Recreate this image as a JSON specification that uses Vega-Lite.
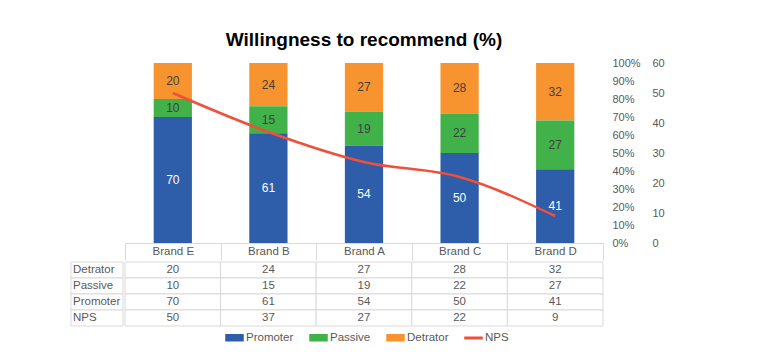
{
  "$schema": "https://vega.github.io/schema/vega-lite/v6.json",
  "padding": {"left": 70, "top": 31, "right": 5, "bottom": 5},
  "background": "white",
  "config": {"view": {"stroke": null}, "font": "Liberation Sans", "legend": {"layout": {"bottom": {"anchor": "middle"}}}},
  "datasets": {
    "d": [
      {"brand": "Brand E", "series": "Detrator", "value": 20},
      {"brand": "Brand E", "series": "Passive", "value": 10},
      {"brand": "Brand E", "series": "Promoter", "value": 70},
      {"brand": "Brand E", "series": "NPS", "value": 50},
      {"brand": "Brand B", "series": "Detrator", "value": 24},
      {"brand": "Brand B", "series": "Passive", "value": 15},
      {"brand": "Brand B", "series": "Promoter", "value": 61},
      {"brand": "Brand B", "series": "NPS", "value": 37},
      {"brand": "Brand A", "series": "Detrator", "value": 27},
      {"brand": "Brand A", "series": "Passive", "value": 19},
      {"brand": "Brand A", "series": "Promoter", "value": 54},
      {"brand": "Brand A", "series": "NPS", "value": 27},
      {"brand": "Brand C", "series": "Detrator", "value": 28},
      {"brand": "Brand C", "series": "Passive", "value": 22},
      {"brand": "Brand C", "series": "Promoter", "value": 50},
      {"brand": "Brand C", "series": "NPS", "value": 22},
      {"brand": "Brand D", "series": "Detrator", "value": 32},
      {"brand": "Brand D", "series": "Passive", "value": 27},
      {"brand": "Brand D", "series": "Promoter", "value": 41},
      {"brand": "Brand D", "series": "NPS", "value": 9}
    ]
  },
  "columns": 2,
  "spacing": 0,
  "concat": [
    {
      "width": 52, "height": 180,
      "data": {"values": [{}]},
      "mark": {"type": "point", "opacity": 0},
      "encoding": {}
    },
    {
      "title": {"text": "Willingness to recommend (%)", "fontSize": 19, "fontWeight": "bold", "color": "#000000", "anchor": "middle", "offset": 7},
      "width": 478, "height": 180,
      "data": {"name": "d"},
      "layer": [
        {
          "layer": [
            {
              "transform": [{"filter": "datum.series !== 'NPS'"}],
              "mark": {"type": "bar", "width": {"band": 0.4}},
              "encoding": {
                "x": {"field": "brand", "type": "nominal", "sort": ["Brand E", "Brand B", "Brand A", "Brand C", "Brand D"],
                  "scale": {"paddingInner": 0, "paddingOuter": 0},
                  "axis": {"title": null, "orient": "bottom", "labelAngle": 0, "domainColor": "#d9d9d9", "tickColor": "#d9d9d9", "tickBand": "extent", "tickSize": 17, "labelBaseline": "middle", "labelPadding": -8.5, "labelFontSize": 11.5, "labelColor": "#595959"}},
                "y": {"field": "value", "type": "quantitative", "stack": "zero",
                  "scale": {"domain": [0, 100], "nice": false},
                  "axis": {"orient": "right", "title": null, "values": [0, 10, 20, 30, 40, 50, 60, 70, 80, 90, 100], "labelExpr": "datum.value + '%'", "labelOverlap": false, "domain": false, "ticks": false, "grid": false, "labelAlign": "left", "labelPadding": 9, "labelFontSize": 11, "labelColor": "#595959"}},
                "order": {"field": "series", "sort": "descending"},
                "color": {"field": "series", "type": "nominal",
                  "scale": {"domain": ["Promoter", "Passive", "Detrator", "NPS"], "range": ["#2E5DA9", "#41B14A", "#F7942F", "#F04F3A"]},
                  "legend": {"orient": "bottom", "direction": "horizontal", "title": null, "labelFontSize": 11.5, "labelColor": "#595959", "columnPadding": 13, "symbolSize": 289, "labelOffset": 2, "offset": 1,
                    "encode": {"symbols": {"update": {
                      "shape": {"signal": "datum.value === 'NPS' ? 'M-1,-0.1H1V0.1H-1Z' : 'M-1,-0.35H1V0.35H-1Z'"},
                      "fill": {"signal": "datum.value === 'Promoter' ? '#2E5DA9' : datum.value === 'Passive' ? '#41B14A' : datum.value === 'Detrator' ? '#F7942F' : '#F04F3A'"},
                      "stroke": {"value": "transparent"}
                    }}}}
                }
              }
            },
            {
              "transform": [
                {"filter": "datum.series !== 'NPS'"},
                {"stack": "value", "groupby": ["brand"], "sort": [{"field": "series", "order": "descending"}], "as": ["y0", "y1"]},
                {"calculate": "(datum.y0 + datum.y1) / 2", "as": "mid"}
              ],
              "mark": {"type": "text", "fontSize": 12},
              "encoding": {
                "x": {"field": "brand", "type": "nominal", "sort": ["Brand E", "Brand B", "Brand A", "Brand C", "Brand D"]},
                "y": {"field": "mid", "type": "quantitative",
                  "axis": {"orient": "right", "title": null, "values": [0, 10, 20, 30, 40, 50, 60, 70, 80, 90, 100], "labelExpr": "datum.value + '%'", "labelOverlap": false, "domain": false, "ticks": false, "grid": false, "labelAlign": "left", "labelPadding": 9, "labelFontSize": 11, "labelColor": "#595959"}},
                "text": {"field": "value", "type": "quantitative"},
                "color": {"condition": {"test": "datum.series === 'Promoter'", "value": "#ffffff"}, "value": "#404040"}
              }
            }
          ]
        },
        {
          "transform": [{"filter": "datum.series === 'NPS'"}],
          "mark": {"type": "line", "strokeWidth": 2.5, "interpolate": "monotone"},
          "encoding": {
            "x": {"field": "brand", "type": "nominal", "sort": ["Brand E", "Brand B", "Brand A", "Brand C", "Brand D"]},
            "y": {"field": "value", "type": "quantitative",
              "scale": {"domain": [0, 60], "nice": false},
              "axis": {"orient": "right", "offset": 40, "title": null, "values": [0, 10, 20, 30, 40, 50, 60], "labelOverlap": false, "domain": false, "ticks": false, "grid": false, "labelAlign": "left", "labelPadding": 9, "labelFontSize": 11, "labelColor": "#595959"}},
            "color": {"datum": "NPS", "type": "nominal"}
          }
        }
      ],
      "resolve": {"scale": {"y": "independent"}}
    },
    {
      "width": 52, "height": 64,
      "data": {"name": "d"},
      "transform": [{"filter": "datum.brand === 'Brand E'"}],
      "layer": [
        {
          "mark": {"type": "rect", "fill": "#ffffff", "stroke": "#d9d9d9", "strokeWidth": 1},
          "encoding": {
            "y": {"field": "series", "type": "nominal", "sort": ["Detrator", "Passive", "Promoter", "NPS"], "scale": {"paddingInner": 0, "paddingOuter": 0}, "axis": null}
          }
        },
        {
          "mark": {"type": "text", "align": "left", "dx": 2, "fontSize": 11.5, "color": "#595959"},
          "encoding": {
            "x": {"datum": 0, "type": "quantitative", "scale": {"domain": [0, 1], "nice": false}, "axis": null},
            "y": {"field": "series", "type": "nominal", "sort": ["Detrator", "Passive", "Promoter", "NPS"]},
            "text": {"field": "series", "type": "nominal"}
          }
        }
      ]
    },
    {
      "width": 478, "height": 64,
      "data": {"name": "d"},
      "layer": [
        {
          "mark": {"type": "rect", "fill": "#ffffff", "stroke": "#d9d9d9", "strokeWidth": 1},
          "encoding": {
            "x": {"field": "brand", "type": "nominal", "sort": ["Brand E", "Brand B", "Brand A", "Brand C", "Brand D"], "scale": {"paddingInner": 0, "paddingOuter": 0}, "axis": null},
            "y": {"field": "series", "type": "nominal", "sort": ["Detrator", "Passive", "Promoter", "NPS"], "scale": {"paddingInner": 0, "paddingOuter": 0}, "axis": null}
          }
        },
        {
          "mark": {"type": "text", "fontSize": 11.5, "color": "#595959"},
          "encoding": {
            "x": {"field": "brand", "type": "nominal", "sort": ["Brand E", "Brand B", "Brand A", "Brand C", "Brand D"]},
            "y": {"field": "series", "type": "nominal", "sort": ["Detrator", "Passive", "Promoter", "NPS"]},
            "text": {"field": "value", "type": "quantitative"}
          }
        }
      ]
    }
  ]
}
